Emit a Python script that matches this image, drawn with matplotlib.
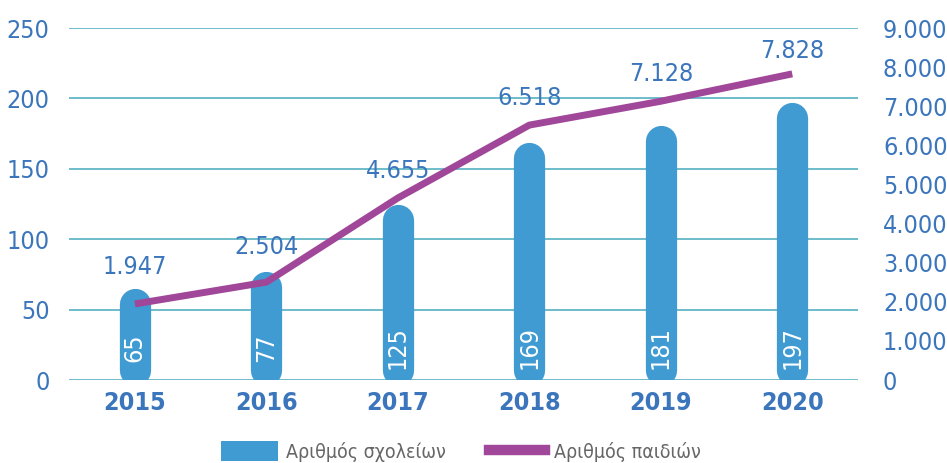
import matplotlib
matplotlib.use("Agg")
import matplotlib.pyplot as plt
from matplotlib.patches import Patch
from matplotlib.lines import Line2D

years = ["2015", "2016", "2017", "2018", "2019", "2020"]
schools = [65, 77, 125, 169, 181, 197]
children = [1947, 2504, 4655, 6518, 7128, 7828]
children_labels = ["1.947", "2.504", "4.655", "6.518", "7.128", "7.828"]
left_ticks = [0, 50, 100, 150, 200, 250]
right_ticks = [0, 1000, 2000, 3000, 4000, 5000, 6000, 7000, 8000, 9000]
right_tick_labels = ["0", "1.000", "2.000", "3.000", "4.000", "5.000",
                     "6.000", "7.000", "8.000", "9.000"]

BLUE = "#419bd3"
PURPLE = "#a0479a"
TEXT_BLUE = "#3b76bc"
GRID = "#6fbccb"
num = dict(family="DejaVu Sans", stretch="condensed", fontsize=18)

fig = plt.figure(figsize=(9.47, 4.63), dpi=100)
ax = fig.add_axes([0.073, 0.179, 0.833, 0.7605])
ax2 = ax.twinx()

x = list(range(len(years)))
ax.set_xlim(-0.5, len(years) - 0.5)
ax.set_ylim(0, 250)
ax2.set_ylim(0, 9000)

# rounded "pill" bars: thick lines with round caps
cap = 11  # half the bar width expressed in left-axis units
for xi, v in zip(x, schools):
    ax.plot([xi, xi], [cap - 4, v - cap], color=BLUE, lw=22.5,
            solid_capstyle="round", zorder=3)
    ax.text(xi, 23, str(v), rotation=90, ha="center", va="center",
            color="white", **num)

for t in left_ticks:
    ax.axhline(t, color=GRID, lw=1.4, zorder=1)

ax2.plot(x, children, color=PURPLE, lw=5, zorder=5, solid_capstyle="butt")
offsets = [18, 17, 11, 11, 11, 8]
for xi, v, lab, off in zip(x, children, children_labels, offsets):
    ax2.annotate(lab, (xi, v), xytext=(0, off), textcoords="offset points",
                 ha="center", va="bottom", color=TEXT_BLUE, **num)

ax.set_xticks(x)
ax.set_xticklabels(years, color=TEXT_BLUE, fontweight="bold", **num)
ax.set_yticks(left_ticks)
ax.set_yticklabels([str(t) for t in left_ticks], color=TEXT_BLUE, **num)
ax2.set_yticks(right_ticks)
ax2.set_yticklabels(right_tick_labels, color=TEXT_BLUE, **num)
ax.tick_params(axis="both", length=0)
ax.tick_params(axis="y", pad=14)
ax.tick_params(axis="x", pad=8)
ax2.tick_params(axis="y", length=0, pad=18)

for a in (ax, ax2):
    for s in a.spines.values():
        s.set_visible(False)

handles = [Patch(facecolor=BLUE, edgecolor="none"),
           Line2D([0], [0], color=PURPLE, lw=7.5)]
fig.legend(handles, ["Αριθμός σχολείων", "Αριθμός παιδιών"],
           loc="lower center", bbox_to_anchor=(0.487, -0.035), ncol=2,
           frameon=False, handlelength=2.9, handleheight=1.15,
           handletextpad=0.45, columnspacing=2.2,
           prop={"family": "DejaVu Sans", "stretch": "condensed",
                 "size": 14, "weight": "light"},
           labelcolor="#666666")

fig.savefig("out.png", dpi=100)
